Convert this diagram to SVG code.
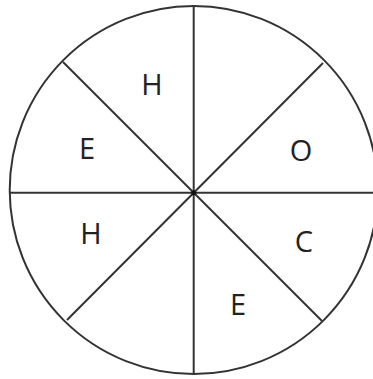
<svg xmlns="http://www.w3.org/2000/svg" width="373" height="379" viewBox="0 0 373 379">
<style>
.ln{stroke:#333;stroke-width:2;fill:none}
.lbl{font-family:"Open Sans","Liberation Sans",sans-serif;font-size:29px;fill:#222;text-anchor:middle}
</style>
<rect width="373" height="379" fill="#fff"/>
<g id="circle"><ellipse cx="193.7" cy="190" rx="184" ry="184" class="ln" stroke-width="1.6"/></g>
<g id="connectors">
<line class="ln" x1="193.7" y1="6" x2="193.7" y2="374"/>
<line class="ln" x1="10" y1="192.7" x2="373" y2="192.7"/>
<line class="ln" x1="63" y1="62" x2="322" y2="321"/>
<line class="ln" x1="323" y1="63" x2="67" y2="320"/>
<circle cx="193.7" cy="192.7" r="2.5" fill="#111"/>
</g>
<g id="n1"><text class="lbl" x="152" y="94.5">H</text></g>
<g id="n2"><text class="lbl" x="87" y="159">E</text></g>
<g id="n3"><text class="lbl" x="301" y="161">O</text></g>
<g id="n4"><text class="lbl" x="91" y="244">H</text></g>
<g id="n5"><text class="lbl" x="304" y="252">C</text></g>
<g id="n6"><text class="lbl" x="238" y="315">E</text></g>
</svg>
